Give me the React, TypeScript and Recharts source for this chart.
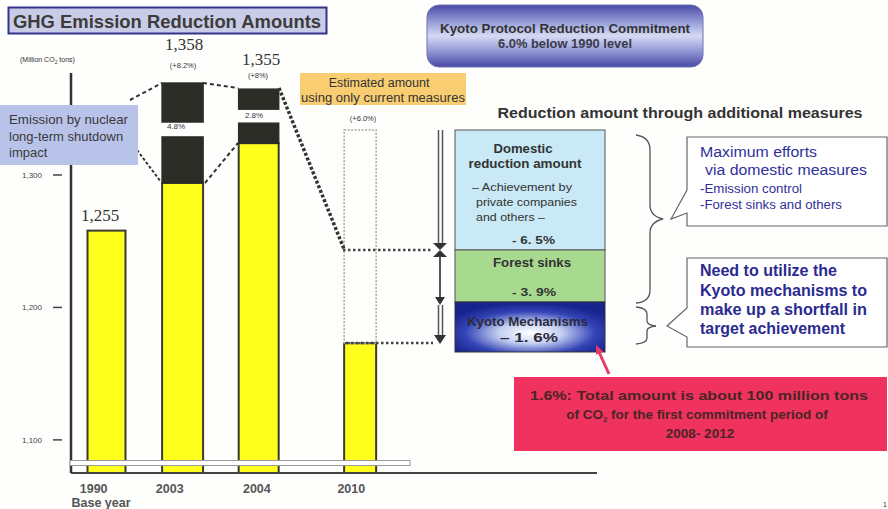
import React from 'react';
import { ComposedChart, Bar, XAxis, YAxis } from 'recharts';

// ---------- data ----------
const categories = ['1990', '2003', '2004', '2010'];
const currentMeasures = [1258, 1294, 1324, 1173];
const nuclearImpact = [null, 34.7, 15.1, null];
const detailGap = [null, 11.3, 10.6, null];
const nuclearDetail = [null, 29.4, 15.1, null];
const estimatedExtra = [null, null, null, 161];
const yTicks = [1100, 1200, 1300];
const yTickLabels = ['1,100', '1,200', '1,300'];
const spacerSlots = [0, 2, 2, 3];

const chartData: any[] = [];
categories.forEach((c, i) => {
  for (let k = 0; k < spacerSlots[i]; k++) chartData.push({ name: '' });
  chartData.push({
    name: c,
    current: currentMeasures[i],
    nuclear: nuclearImpact[i],
    gap: detailGap[i],
    detail: nuclearDetail[i],
    estimated: estimatedExtra[i],
  });
});

// ---------- styles ----------
const F = 'Liberation Sans, Arial, Helvetica, sans-serif';
const S = 'Liberation Serif, Times New Roman, serif';
const barWidths: Record<string, number> = { '1990': 38, '2003': 41, '2004': 40, '2010': 32 };
const labelShift: Record<string, number> = { '1990': -13, '2003': -13, '2004': -2, '2010': -9 };

const makeShape = (fill: string, stroke: string, sw: number, dash?: string) => (props: any) => {
  const { x, y, width, height, payload } = props;
  if (!payload || !payload.name || !(height > 0.3)) return <g />;
  const w = barWidths[payload.name] || width;
  const cx = x + width / 2;
  return (
    <rect x={cx - w / 2} y={y} width={w} height={height} fill={fill} stroke={stroke}
      strokeWidth={sw} strokeDasharray={dash} />
  );
};

const YTick = (props: any) => {
  const { y, payload } = props;
  const idx = yTicks.indexOf(payload.value);
  return (
    <g>
      <text x={42} y={y + 3} textAnchor="end" fontSize={8} fontFamily={F} fill="#444">
        {yTickLabels[idx]}
      </text>
      <rect x={53} y={y - 0.75} width={9} height={1.5} fill="#444" />
    </g>
  );
};

const XTick = (props: any) => {
  const { x, y, payload } = props;
  if (!payload || !payload.value) return <g />;
  const v = payload.value as string;
  return (
    <g>
      <text x={x + labelShift[v]} y={y + 20} textAnchor="middle" fontSize={12.5} fontWeight="bold"
        fontFamily={F} fill="#555">{v}</text>
      {v === '1990' && (
        <text x={101} y={y + 34} textAnchor="middle" fontSize={12.5} fontWeight="bold"
          fontFamily={F} fill="#555">Base year</text>
      )}
    </g>
  );
};

const T = (p: any) => <text fontFamily={F} fill="#333" {...p} />;

export default function App() {
  return (
    <div style={{ position: 'absolute', left: 0, top: 0, width: 888, height: 509, background: '#fefefd', overflow: 'hidden' }}>
      <ComposedChart width={888} height={509} data={chartData}
        margin={{ top: 73, right: 291, bottom: 6, left: 0 }} barCategoryGap={0}>
        <XAxis dataKey="name" interval={0} tickLine={false} tickSize={0} tickMargin={0}
          axisLine={{ stroke: '#444', strokeWidth: 2 }} tick={<XTick />}
          padding={{ left: 23, right: 224 }} height={30} />
        <YAxis type="number" domain={[1075, 1377]} allowDataOverflow ticks={yTicks}
          width={71} tickLine={false} axisLine={{ stroke: '#333', strokeWidth: 2.5 }} tick={<YTick />} />
        <Bar dataKey="current" stackId="a" isAnimationActive={false} shape={makeShape('#ffff1e', '#3a3a32', 2)} />
        <Bar dataKey="nuclear" stackId="a" isAnimationActive={false} shape={makeShape('#2c2c27', '#2c2c27', 1.5)} />
        <Bar dataKey="gap" stackId="a" isAnimationActive={false} shape={makeShape('none', 'none', 0)} />
        <Bar dataKey="detail" stackId="a" isAnimationActive={false} shape={makeShape('#2c2c27', '#2c2c27', 1.5)} />
        <Bar dataKey="estimated" stackId="a" isAnimationActive={false} shape={makeShape('none', '#a8a8a0', 1.5, '2 1.5')} />
      </ComposedChart>

      <svg width={888} height={509} style={{ position: 'absolute', left: 0, top: 0, pointerEvents: 'none' }}>
        <defs>
          <linearGradient id="kyotoGrad" x1="0" y1="0" x2="0" y2="1">
            <stop offset="0" stopColor="#4a4aa6" />
            <stop offset="0.3" stopColor="#9ca4dc" />
            <stop offset="0.5" stopColor="#d6daf3" />
            <stop offset="0.7" stopColor="#9ca4dc" />
            <stop offset="1" stopColor="#4a4aa6" />
          </linearGradient>
          <radialGradient id="kmGrad" cx="0.5" cy="0.62" r="0.6">
            <stop offset="0" stopColor="#ffffff" />
            <stop offset="0.35" stopColor="#c4d0f2" />
            <stop offset="0.72" stopColor="#3444b6" />
            <stop offset="1" stopColor="#18248e" />
          </radialGradient>
        </defs>

        {/* axis break band */}
        <rect x={70} y={460.5} width={340} height={5} fill="#ffffff" stroke="#999" strokeWidth={1} />

        {/* title */}
        <rect x={8.5} y={7.5} width={318} height={26} fill="#c9cce6" stroke="#33338a" strokeWidth={2} />
        <T x={167} y={28} textAnchor="middle" fontSize={19} fontWeight="bold" fill="#3c3c3c"
          textLength={308} lengthAdjust="spacingAndGlyphs">GHG Emission Reduction Amounts</T>

        <T x={20} y={62} fontSize={7} fill="#333">(Million CO<tspan fontSize={5} dy={2}>2</tspan><tspan dy={-2}> tons)</tspan></T>

        {/* connectors */}
        <line x1={130} y1={100} x2={162} y2={83} stroke="#333" strokeWidth={2} strokeDasharray="4 3" />
        <line x1={137} y1={150} x2={161} y2={182} stroke="#333" strokeWidth={2} strokeDasharray="3 2" />
        <line x1={203} y1={83} x2={238} y2={88} stroke="#333" strokeWidth={2} strokeDasharray="4 3" />
        <line x1={205} y1={183} x2={238} y2={143} stroke="#333" strokeWidth={2} strokeDasharray="4 3" />
        <line x1={279} y1={88} x2={344} y2={249} stroke="#333" strokeWidth={3.5} strokeDasharray="3 2" />
        <line x1={343} y1={250} x2={433} y2={250} stroke="#444" strokeWidth={2.5} strokeDasharray="2.5 2.5" />
        <line x1={346} y1={343} x2={433} y2={343} stroke="#444" strokeWidth={2.5} strokeDasharray="2.5 2.5" />

        {/* nuclear box */}
        <rect x={0} y={105} width={138} height={60} fill="#b9c3ea" />
        <T x={9} y={124} fontSize={13} fill="#3a3a3a" textLength={119} lengthAdjust="spacingAndGlyphs">Emission by nuclear</T>
        <T x={9} y={141} fontSize={13} fill="#3a3a3a">long-term shutdown</T>
        <T x={9} y={157} fontSize={13} fill="#3a3a3a">impact</T>

        {/* value labels */}
        <text x={184} y={50} textAnchor="middle" fontSize={17} fontFamily={S} fill="#333">1,358</text>
        <T x={183} y={68} textAnchor="middle" fontSize={7.5}>(+8.2%)</T>
        <text x={261} y={65} textAnchor="middle" fontSize={17} fontFamily={S} fill="#333">1,355</text>
        <T x={258} y={78} textAnchor="middle" fontSize={7.5}>(+8%)</T>
        <text x={100} y={221} textAnchor="middle" fontSize={17} fontFamily={S} fill="#333">1,255</text>
        <T x={363} y={121} textAnchor="middle" fontSize={7.5}>(+6.0%)</T>
        <T x={176} y={129} textAnchor="middle" fontSize={8}>4.8%</T>
        <T x={254} y={118} textAnchor="middle" fontSize={8}>2.8%</T>

        {/* Kyoto protocol box */}
        <rect x={427} y={5} width={276} height={62} rx={12} fill="url(#kyotoGrad)" stroke="#7070b8" strokeWidth={1} />
        <T x={565} y={33} textAnchor="middle" fontSize={12.5} fontWeight="bold" textLength={250} lengthAdjust="spacingAndGlyphs">Kyoto Protocol Reduction Commitment</T>
        <T x={565} y={48} textAnchor="middle" fontSize={12.5} fontWeight="bold" fill="#3a3a4a" textLength={134} lengthAdjust="spacingAndGlyphs">6.0% below 1990 level</T>

        {/* estimated box */}
        <rect x={300} y={73} width={166} height={32} fill="#f9cd72" />
        <T x={379} y={87} textAnchor="middle" fontSize={12.5}>Estimated amount</T>
        <T x={383} y={102} textAnchor="middle" fontSize={12.5} textLength={164} lengthAdjust="spacingAndGlyphs">using only current measures</T>

        <T x={680} y={118} textAnchor="middle" fontSize={14} fontWeight="bold" textLength={365} lengthAdjust="spacingAndGlyphs">Reduction amount through additional measures</T>

        {/* arrow column */}
        <line x1={438.5} y1={130} x2={438.5} y2={246} stroke="#555" strokeWidth={1.5} />
        <line x1={442.5} y1={130} x2={442.5} y2={246} stroke="#555" strokeWidth={1.5} />
        <polygon points="433,243 447,243 440,250 447,257 433,257 440,250" fill="#333" />
        <line x1={440} y1={256} x2={440} y2={298} stroke="#555" strokeWidth={2} />
        <polygon points="435,297 445,297 440,305" fill="#333" />
        <line x1={438.5} y1={305} x2={438.5} y2={337} stroke="#555" strokeWidth={1.5} />
        <line x1={442.5} y1={305} x2={442.5} y2={337} stroke="#555" strokeWidth={1.5} />
        <polygon points="434,335 446,335 440,344" fill="#333" />

        {/* stacked reduction boxes */}
        <rect x={455} y={130} width={150} height={120} fill="#c8e9f5" stroke="#555" strokeWidth={1} />
        <rect x={455} y={250} width={150} height={52} fill="#a7d98f" stroke="#555" strokeWidth={1} />
        <rect x={455} y={302} width={150} height={50} fill="url(#kmGrad)" stroke="#333" strokeWidth={1} />
        <T x={523} y={153} textAnchor="middle" fontSize={12.5} fontWeight="bold" textLength={59} lengthAdjust="spacingAndGlyphs">Domestic</T>
        <T x={525} y={168} textAnchor="middle" fontSize={12.5} fontWeight="bold" textLength={113} lengthAdjust="spacingAndGlyphs">reduction amount</T>
        <T x={472} y={191} fontSize={11.5} textLength={100} lengthAdjust="spacingAndGlyphs">– Achievement by</T>
        <T x={476} y={206} fontSize={11.5} textLength={101} lengthAdjust="spacingAndGlyphs">private companies</T>
        <T x={476} y={221} fontSize={11.5} textLength={69} lengthAdjust="spacingAndGlyphs">and others –</T>
        <T x={512} y={244} fontSize={11} fontWeight="bold" textLength={43} lengthAdjust="spacingAndGlyphs">- 6. 5%</T>
        <T x={493} y={267} fontSize={12.5} fontWeight="bold" textLength={78} lengthAdjust="spacingAndGlyphs">Forest sinks</T>
        <T x={512} y={296} fontSize={11} fontWeight="bold" textLength={44} lengthAdjust="spacingAndGlyphs">- 3. 9%</T>
        <T x={467} y={326} fontSize={12.5} fontWeight="bold" fill="#2a2a3a" textLength={121} lengthAdjust="spacingAndGlyphs">Kyoto Mechanisms</T>
        <T x={500} y={342} fontSize={12} fontWeight="bold" fill="#2a2a3a" textLength={58} lengthAdjust="spacingAndGlyphs">– 1. 6%</T>

        {/* braces */}
        <path d="M636,135 Q650,137 650,150 L650,205 Q650,216 663,219 Q650,222 650,233 L650,290 Q650,302 636,303"
          fill="none" stroke="#555" strokeWidth={1.3} />
        <path d="M636,307 Q647,308 647,314 L647,321 Q647,325 656,326 Q647,327 647,331 L647,338 Q647,343 636,344"
          fill="none" stroke="#555" strokeWidth={1.3} />

        {/* callouts */}
        <path d="M687,137 H887 V226 H687 V213 L671,219 L687,190 Z" fill="#fff" stroke="#666" strokeWidth={1.2} />
        <T x={700} y={157} fontSize={15.5} fill="#30309a" textLength={117} lengthAdjust="spacingAndGlyphs">Maximum efforts</T>
        <T x={705} y={175} fontSize={15.5} fill="#30309a" textLength={162} lengthAdjust="spacingAndGlyphs">via domestic measures</T>
        <T x={700} y={193} fontSize={12.5} fill="#30309a" textLength={102} lengthAdjust="spacingAndGlyphs">-Emission control</T>
        <T x={700} y={209} fontSize={12.5} fill="#30309a" textLength={142} lengthAdjust="spacingAndGlyphs">-Forest sinks and others</T>

        <path d="M687,258 H887 V347 H687 V337 L667,326 L687,308 Z" fill="#fff" stroke="#666" strokeWidth={1.2} />
        <T x={700} y={276} fontSize={16} fontWeight="bold" fill="#2a2a90" textLength={137} lengthAdjust="spacingAndGlyphs">Need to utilize the</T>
        <T x={700} y={296} fontSize={16} fontWeight="bold" fill="#2a2a90" textLength={167} lengthAdjust="spacingAndGlyphs">Kyoto mechanisms to</T>
        <T x={700} y={315} fontSize={16} fontWeight="bold" fill="#2a2a90" textLength={167} lengthAdjust="spacingAndGlyphs">make up a shortfall in</T>
        <T x={700} y={334} fontSize={16} fontWeight="bold" fill="#2a2a90" textLength={145} lengthAdjust="spacingAndGlyphs">target achievement</T>

        {/* red note */}
        <line x1={609} y1={374} x2={599} y2={352} stroke="#e83a62" strokeWidth={3} />
        <polygon points="596,345 603.3,351.6 596.1,354.8" fill="#e83a62" />
        <rect x={514} y={377} width={373} height={74} fill="#f0335e" />
        <T x={699} y={400} textAnchor="middle" fontSize={13.5} fontWeight="bold" fill="#4a2426" textLength={338} lengthAdjust="spacingAndGlyphs">1.6%: Total amount is about 100 million tons</T>
        <T x={697} y={419} textAnchor="middle" fontSize={13.5} fontWeight="bold" fill="#4a2426">of CO<tspan fontSize={8} dy={3}>2</tspan><tspan dy={-3}> for the first commitment period of</tspan></T>
        <T x={700} y={438} textAnchor="middle" fontSize={13.5} fontWeight="bold" fill="#4a2426">2008- 2012</T>

        <T x={883} y={507} fontSize={7}>1</T>
      </svg>
    </div>
  );
}
